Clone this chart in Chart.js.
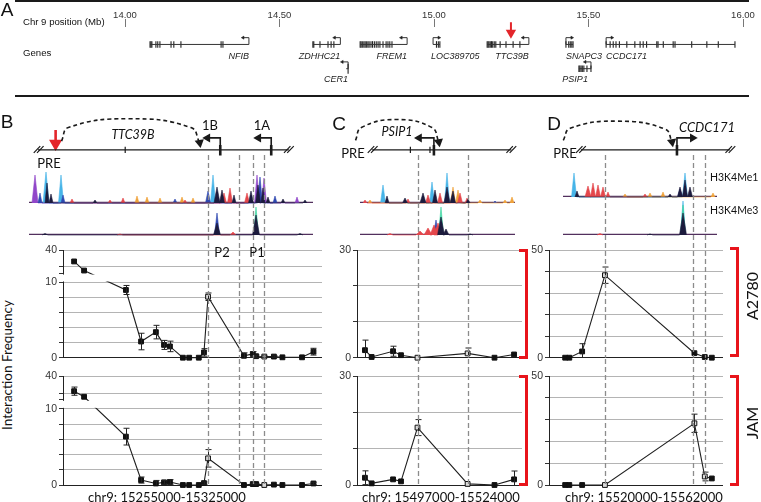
<!DOCTYPE html>
<html>
<head>
<meta charset="utf-8">
<title>TTC39B PRE chromatin interactions</title>
<script src="https://cdn.jsdelivr.net/npm/chart.js@4.4.1/dist/chart.umd.min.js"></script>
<style>
html,body{margin:0;padding:0;background:#fff;}
body{position:relative;width:761px;height:502px;overflow:hidden;}
canvas{position:absolute;}
.t{position:absolute;white-space:nowrap;line-height:1;color:#111;z-index:6;}
.rule{position:absolute;background:#1a1a1a;z-index:6;}
.brk{position:absolute;border:3px solid #e8141b;border-left:none;z-index:6;}
</style>
</head>
<body>
<script>
// ====================== DATA ======================
// ---- Panel A : genes on chr9 (Mb) ----
const axisMb = [14.00, 14.50, 15.00, 15.50, 16.00];
const geneNames  = ['NFIB','ZDHHC21','CER1','FREM1','LOC389705','TTC39B','SNAPC3','PSIP1','CCDC171'];
const geneStart  = [14.081, 14.608, 14.716, 14.761, 14.997, 15.172, 15.427, 15.469, 15.557];
const geneEnd    = [14.401, 14.697, 14.722, 14.913, 15.019, 15.307, 15.450, 15.508, 15.974];
const geneStrand = [-1, -1, -1, -1, 1, -1, 1, -1, 1];
const geneRow    = [18, 18, 43, 18, 18, 18, 18, 43, 18];
const geneExons  = [
  [14.081,14.084,14.087,14.100,14.106,14.113,14.149,14.158,14.181,14.311,14.317],
  [14.608,14.611,14.631,14.657,14.667,14.676],
  [14.722],
  [14.761,14.764,14.768,14.773,14.777,14.781,14.786,14.790,14.796,14.801,14.807,14.813,14.819,14.825,14.835,14.845,14.851,14.857,14.864],
  [15.008,15.014,15.019],
  [15.172,15.175,15.178,15.182,15.186,15.190,15.195,15.200,15.214,15.233,15.256,15.278],
  [15.427,15.436,15.441,15.446,15.450],
  [15.469,15.472,15.476,15.480,15.485,15.495,15.508],
  [15.557,15.570,15.580,15.589,15.600,15.624,15.650,15.667,15.677,15.688,15.721,15.725,15.742,15.774,15.780,15.834,15.883,15.920,15.974]
];
const geneLabelPos   = [14.401, 14.697, 14.722, 14.913, 14.990, 15.307, 15.427, 15.498, 15.557];
const geneLabelAlign = ['right','right','right','right','left','right','left','right','left'];
const preMarkMb = 15.249;

// ---- Panels B-D : schematic (diagram units) ----
const schemLineY     = 153;
const schemGeneLines = [[31, 287], [372, 514], [585, 737]];
const schemBreaks    = [31.7, 287, 372.5, 514, 585, 737.5];
const schemMinorTick = [120, 411, 431];
const schemTSS       = [217, 269, 435, 683];
const schemTSSDir    = [-1, -1, -1, 1];
const schemTSSLen    = [13, 13, 15, 16];
const schemArcs = [
  [[55,142],[62,125],[123,114],[187,125],[196,144]],
  [[355,141],[361,125],[397,115],[433,125],[440,143]],
  [[567,141],[574,126],[622,117],[671,127],[678,143]]
];
const preArrowX = 49;

// ---- ChIP-seq tracks: [position along track, height, colour, half width] ----
const bMe1 = [[6,28,'pu',3],[11,10,'bl',2],[17,31,'cy',3],[18,20,'dk',2],[22,9,'dk',2],[32,28,'cy',2.5],[34,8,'bl',2],
  [43,4,'rd',2],[66,3,'dk',2],[81,3,'rd',2],[94,5,'rd',2],[108,7,'or',2],[118,6,'or',2],[131,5,'or',2],[146,4,'bl',2],[153,6,'or',2],[156,3,'rd',2],[164,5,'or',2],
  [179,12,'bl',2.5],[184,28,'cy',2.5],[188,16,'dk',3],[193,13,'dk',2.5],[195,10,'rd',2.5],[201,15,'rd',2.5],[205,8,'dk',2],[218,10,'rd',2.5],[222,12,'dk',2.5],
  [228,28,'pu',2.5],[229,18,'dk',2.5],[231,26,'bl',2.5],[235,25,'pu',2.5],[234,15,'dk',2],[239,6,'dk',2],[246,7,'bl',2],[254,4,'dk',2],[268,6,'pu',2],[276,3,'dk',2]];
const bMe3 = [[16,1.5,'dk',3],[91,1,'rd',3],[188,22,'bl',2.5],[188,12,'dk',3.5],[204,3,'rd',3],[227,28,'gr',2.5],[227,20,'dk',3.5],[271,1.5,'dk',3]];
const cMe1 = [[5,3,'rd',2],[10,3,'or',2],[23,18,'cy',2.5],[27,7,'dk',2],[45,5,'dk',2.5],[48,4,'rd',2],[63,10,'dk',3],[68,8,'rd',2.5],
  [72,21,'cy',2.5],[75,13,'dk',2.5],[80,10,'rd',2.5],[87,30,'cy',2.5],[87,16,'dk',3],[93,16,'or',2.5],[93,12,'dk',2.5],[98,13,'or',2.5],[100,10,'rd',2.5],
  [107,5,'rd',2],[108,4,'dk',2],[120,3,'or',2],[135,2,'bl',2],[145,3,'or',2],[152,6,'or',2]];
const cMe3 = [[30,1.5,'rd',3],[60,4,'rd',4],[68,7,'rd',4],[74,10,'rd',4],[78,12,'rd',4],[76,15,'bl',2.5],[81,28,'gr',2.5],[81,18,'dk',3.5],[86,6,'dk',3],[110,1,'dk',3]];
const dMe1 = [[11,24,'cy',2.5],[14,6,'dk',2],[25,11,'rd',3],[30,14,'rd',2.5],[35,12,'rd',2.5],[40,10,'rd',2.5],[45,5,'rd',2],
  [62,3,'or',2],[82,3,'rd',2],[87,4,'or',2],[100,5,'or',2],[107,3,'dk',2],[117,10,'dk',2.5],[117,8,'bl',2.5],[122,24,'cy',2.5],[122,17,'dk',2.5],[127,10,'dk',2.5],[150,4,'or',2]];
const dMe3 = [[37,1.5,'rd',3],[87,1,'dk',3],[120,34,'cy',2.5],[120,30,'gr',2.5],[120,22,'dk',3.5]];

// ---- 3C interaction frequencies ----
const bPos      = [15258000,15260700,15272000,15276100,15280100,15282300,15283900,15287400,15289100,15291700,15293100,15294200,15303900,15306300,15307200,15309400,15312000,15314300,15319600,15322700];
const bA2780    = [33.2, 27.8, 9.0, 2.15, 3.4, 1.7, 1.5, 0, 0, 0, 0.7, 8.1, 0.25, 0.5, 0.2, 0.15, 0.15, 0.05, 0.05, 0.8];
const bA2780Err = [0, 0, 0.6, 1.1, 0.9, 0.6, 0.7, 0, 0, 0, 0.5, 0.5, 0.4, 0.3, 0.15, 0.1, 0.1, 0, 0, 0.45];
const bJAM      = [31.1, 27.8, 6.35, 0.65, 0.2, 0.35, 0.4, 0, 0, 0, 0.25, 3.5, 0, 0.12, 0.12, 0, 0.05, 0, 0, 0.2];
const bJAMErr   = [2.4, 0, 1.1, 0.4, 0.4, 0.25, 0.3, 0, 0, 0, 0.15, 1.15, 0, 0.1, 0.1, 0, 0, 0, 0, 0.15];
const bOpen     = [11, 15];
const bDashed   = [15294100, 15302500, 15306300, 15309400];
const bTicks    = [0, 2, 4, 6, 8, 10, 26, 30, 40];
const bTickText = ['0','','','','','10','','','40'];

const cPos      = [15498300,15499400,15502900,15504200,15506900,15515100,15519500,15522700];
const cA2780    = [2.1, 0.2, 1.8, 0.7, 0, 1.2, 0, 0.9];
const cA2780Err = [2.8, 0, 1.4, 0, 0, 1.5, 0, 0];
const cJAM      = [2.0, 0.45, 1.55, 1.0, 15.8, 0.3, 0, 1.55];
const cJAMErr   = [1.9, 0, 0, 0, 2.2, 0, 0, 2.3];
const cOpen     = [4, 5];
const cDashed   = [15507000, 15515200];
const cTicks    = [0, 10, 20, 30];
const cTickText = ['0','','','30'];

const dPos      = [15523900,15524900,15528000,15533500,15555100,15557600,15559300];
const dA2780    = [0, 0, 2.9, 38.3, 2.1, 0.3, 0];
const dA2780Err = [0, 0, 3.6, 3.8, 0, 0, 0];
const dJAM      = [0, 0, 0, 0, 28.3, 3.9, 3.0];
const dJAMErr   = [0, 0, 0, 0, 4.2, 2.0, 0];
const dOpenA    = [3];
const dOpenJ    = [3, 4, 5];
const dDashed   = [15533400, 15554800, 15557600];
const dTicks    = [0, 10, 20, 30, 40, 50];
const dTickText = ['0','','','','','50'];

// ====================== DRAWING ======================
const ARIAL = '"Liberation Sans", Arial, sans-serif';
const CAL = 'Lato, "Open Sans", sans-serif';
const K = '#1a1a1a';
const RED = '#e3262b';
Chart.defaults.font.family = '"Liberation Sans", Arial, sans-serif';

function mk(left, top, w, h, z){
  const c = document.createElement('canvas');
  c.width = w; c.height = h;
  c.style.cssText = `left:${left}px;top:${top}px;width:${w}px;height:${h}px;z-index:${z}`;
  document.body.appendChild(c);
  return c;
}
const baseOpts = () => ({responsive:false, maintainAspectRatio:false, animation:false, events:[], devicePixelRatio:1,
  plugins:{legend:{display:false}, tooltip:{enabled:false}}});
function seg(pts, w, c){
  return {data: pts.map(([x,y]) => ({x, y})), showLine:true, borderColor:c||K, borderWidth:w, pointRadius:0, clip:false};
}
function txt(s, x, y, font, align, rot, color){
  const d = document.createElement('div');
  d.className = 't'; d.textContent = s; d.style.font = font; d.style.lineHeight = '1';
  d.style.left = x + 'px'; d.style.top = y + 'px';
  if (color) d.style.color = color;
  let tr = align === 'left' ? 'translate(0,-50%)' : 'translate(-50%,-50%)';
  if (rot) tr += ` rotate(${rot}deg)`;
  d.style.transform = tr;
  document.body.appendChild(d);
}
function box(cls, l, t, w, h){
  const d = document.createElement('div'); d.className = cls;
  d.style.left = l + 'px'; d.style.top = t + 'px'; d.style.width = w + 'px'; d.style.height = h + 'px';
  document.body.appendChild(d);
}

// ---------- Panel A ----------
(function(){
  const ds = [];
  geneNames.forEach((g, i) => {
    const row = geneRow[i], s = geneStrand[i];
    ds.push(seg([[geneStart[i], row], [geneEnd[i], row]], 1, '#333'));
    ds.push({data: geneExons[i].map(x => ({x, y: row})), showLine:false, pointStyle:'line', pointRotation:90,
      pointRadius: i === 2 ? 5 : 3.3, borderColor:'#222', pointBorderColor:'#222', pointBorderWidth:1.1, clip:false});
    const tss = s > 0 ? geneStart[i] : geneEnd[i];
    ds.push(Object.assign(seg([[tss, row], [tss, row - 7], [tss + s * 0.019, row - 7]], 1, '#333'),
      {pointRadius:[0,0,1.8], pointStyle:'triangle', pointRotation: s > 0 ? 90 : 270, pointBackgroundColor:'#222', pointBorderColor:'#222', pointBorderWidth:0.5}));
  });
  ds.push(Object.assign(seg([[preMarkMb, -5], [preMarkMb, 6]], 2, RED),
    {pointRadius:[0,4], pointStyle:'triangle', pointRotation:180, pointBackgroundColor:RED, pointBorderColor:RED}));
  const labelPlugin = {id:'geneLabels', afterDatasetsDraw(chart){
    const {ctx, scales:{x, y}} = chart;
    ctx.save(); ctx.font = 'italic 9px "Liberation Sans"'; ctx.fillStyle = '#222'; ctx.textBaseline = 'middle';
    geneNames.forEach((g, i) => {
      ctx.textAlign = geneLabelAlign[i];
      ctx.fillText(g, x.getPixelForValue(geneLabelPos[i]), y.getPixelForValue(geneRow[i] + (geneRow[i] > 30 ? 11.5 : 12)));
    });
    ctx.restore();
  }};
  const o = baseOpts();
  o.layout = {padding:{left:125, right:18, top:0, bottom:4}};
  o.scales = {
    x:{type:'linear', position:'top', min:14, max:16,
       afterBuildTicks: s => { s.ticks = axisMb.map(v => ({value:v})); },
       afterFit: s => { s.height = 27; },
       ticks:{callback: v => v.toFixed(2), font:{size:9.5}, color:'#333', padding:-2, maxRotation:0, autoSkip:false},
       grid:{drawOnChartArea:false, tickLength:8, color:'#777', lineWidth:1}, border:{display:false}},
    y:{display:false, min:0, max:69, reverse:true}
  };
  new Chart(mk(0, 0, 761, 100, 2), {type:'scatter', data:{datasets:ds}, options:o, plugins:[labelPlugin]});
})();

// ---------- Schematics B-D ----------
(function(){
  const ds = [];
  schemGeneLines.forEach(([a, b]) => ds.push(seg([[a, schemLineY], [b, schemLineY]], 1.4)));
  schemBreaks.forEach(bx => {
    ds.push(seg([[bx - 5, 156.7], [bx + 1.6, 148.3]], 1.2));
    ds.push(seg([[bx - 1.7, 156.7], [bx + 5, 148.3]], 1.2));
  });
  schemMinorTick.forEach(x => ds.push(seg([[x, 149], [x, 157]], 1.2)));
  schemTSS.forEach((x, i) => {
    ds.push(seg([[x, 147], [x, 160]], 2.6));
    const d = schemTSSDir[i];
    ds.push(Object.assign(seg([[x, 147], [x, 138], [x + d * schemTSSLen[i], 138]], 1.6),
      {pointRadius:[0,0,3.6], pointStyle:'triangle', pointRotation: d > 0 ? 90 : 270, pointBackgroundColor:K, pointBorderColor:K}));
  });
  schemArcs.forEach(pts => ds.push(Object.assign(seg(pts, 1.6),
    {borderDash:[4,3], tension:0.45, pointRadius: pts.map((p, j) => j === pts.length - 1 ? 3.8 : 0),
     pointStyle:'triangle', pointRotation:170, pointBackgroundColor:K, pointBorderColor:K})));
  ds.push(Object.assign(seg([[preArrowX, 128], [preArrowX, 145]], 2.6, RED),
    {pointRadius:[0,5], pointStyle:'triangle', pointRotation:180, pointBackgroundColor:RED, pointBorderColor:RED}));
  const o = baseOpts();
  o.layout = {padding:0};
  o.scales = {x:{display:false, type:'linear', min:0, max:761}, y:{display:false, min:100, max:175, reverse:true}};
  new Chart(mk(0, 100, 761, 75, 2), {type:'scatter', data:{datasets:ds}, options:o});
})();

// ---------- ChIP-seq tracks ----------
const peakColors = {dk:'#1c1b3d', rd:'#e4474c', or:'#f0a23a', bl:'#2f48b0', pu:'#9146c9', gr:'#3fd6a2', cy:'#46b4e8'};
const peakOrder = ['dk','rd','or','bl','pu','gr','cy'];
function peakChart(left, baseline, width, peaks){
  const H = 40;
  const ds = [];
  peakOrder.forEach(k => {
    const pts = peaks.filter(p => p[2] === k).sort((a, b) => a[0] - b[0])
      .flatMap(p => [{x:p[0] - p[3], y:0}, {x:p[0], y:p[1]}, {x:p[0] + p[3], y:0}]);
    if (pts.length) ds.push({data:pts, showLine:true, fill:'origin', backgroundColor:peakColors[k], borderColor:peakColors[k],
      borderWidth:0.6, pointRadius:0, tension:0, clip:false});
  });
  ds.push({data:[{x:0, y:0.6}, {x:width, y:0.6}], showLine:true, borderColor:'#52305e', borderWidth:1.3, pointRadius:0});
  const o = baseOpts();
  o.layout = {padding:{left:0, right:0, top:0, bottom:2}};
  o.scales = {x:{display:false, type:'linear', min:0, max:width}, y:{display:false, min:0, max:H}};
  new Chart(mk(left, baseline - H, width, H + 2, 2), {type:'scatter', data:{datasets:ds}, options:o});
}
peakChart(29, 203, 284, bMe1);
peakChart(29, 235, 284, bMe3);
peakChart(360, 203, 155, cMe1);
peakChart(360, 235, 155, cMe3);
peakChart(563, 197, 154, dMe1);
peakChart(563, 235, 154, dMe3);

// ---------- interaction-frequency line charts ----------
const dispB = v => v <= 10 ? v : (v < 26 ? 10 + (v - 10) / 16 * 1.18 : 11.18 + (v - 26) * 0.2237);
function lineChart(c){
  const disp = c.disp || (v => v);
  const cl = c.left - 30, cw = c.right + 6 - cl, ch = c.cBottom - c.cTop;
  const overlay = {id:'overlay', afterDraw(chart){
    const {ctx, chartArea:a, scales:{x, y}} = chart;
    ctx.save();
    ctx.strokeStyle = '#222'; ctx.lineWidth = 1;
    c.vals.forEach((v, i) => {
      const e = c.err[i]; if (!e) return;
      const px = Math.round(x.getPixelForValue(c.pos[i])) + 0.5;
      const lowV = v - e;
      const lo = y.getPixelForValue(disp(Math.max(0, lowV)));
      const hi = y.getPixelForValue(disp(v + e));
      ctx.beginPath(); ctx.moveTo(px, lo); ctx.lineTo(px, hi);
      ctx.moveTo(px - 3, hi); ctx.lineTo(px + 3, hi);
      if (lowV > 0) { ctx.moveTo(px - 3, lo); ctx.lineTo(px + 3, lo); }
      ctx.stroke();
    });
    if (c.gap) {
      const yT = y.getPixelForValue(disp(c.gap[1])), yB = y.getPixelForValue(disp(c.gap[0]));
      ctx.fillStyle = '#fff'; ctx.fillRect(a.left - 1.5, yT + 1, a.right - a.left + 3, yB - yT - 2);
    }
    ctx.strokeStyle = '#8c8c8c'; ctx.lineWidth = 1.3; ctx.setLineDash([5, 3]);
    c.dash.forEach(d => {
      const px = Math.round(x.getPixelForValue(d)) + 0.5;
      ctx.beginPath(); ctx.moveTo(px, c.dashTop - c.cTop); ctx.lineTo(px, a.bottom); ctx.stroke();
    });
    ctx.restore();
  }};
  const o = baseOpts();
  o.layout = {padding:{left:0, right:6, top:c.top - c.cTop, bottom:c.cBottom - c.bottom}};
  o.scales = {
    x:{type:'linear', display:false, min:c.xmin, max:c.xmax},
    y:{min:0, max:disp(c.ticks[c.ticks.length - 1]),
       afterBuildTicks: s => { s.ticks = c.ticks.map(v => ({value:disp(v)})); },
       afterFit: s => { s.width = 30; },
       ticks:{autoSkip:false, padding:2, color:'#333', font:{size:10.5}, callback:(v, i) => c.labels[i]},
       grid:{color: ctx => {
               const i = ctx.index, tv = c.ticks[i];
               if (tv === 0) return '#222';
               if (c.noGrid && c.noGrid.includes(tv)) return 'rgba(0,0,0,0)';
               return '#b4b4b4';
             }, tickColor:'#333', tickLength:4, lineWidth:1},
       border:{color:'#222', width:1}}
  };
  new Chart(mk(cl, c.cTop, cw, ch, 3), {type:'scatter', data:{datasets:[{
    data: c.pos.map((x, i) => ({x, y: disp(c.vals[i])})), showLine:true, borderColor:'#1f1f1f', borderWidth:1.1,
    pointStyle:'rect', pointRadius:3.4, pointBorderWidth:1, pointBorderColor:'#111',
    pointBackgroundColor: c.vals.map((v, i) => c.open.includes(i) ? '#dadada' : '#111'), clip:false
  }]}, options:o, plugins:[overlay]});
}
const TOP = {cTop:150, cBottom:366, top:250, bottom:359, dashTop:155};
const BOT = {cTop:359, cBottom:502, top:376, bottom:485, dashTop:359};
const B = {left:63, right:322, xmin:15255000, xmax:15325000, disp:dispB, ticks:bTicks, labels:bTickText, noGrid:[26], gap:[10, 26], dash:bDashed, pos:bPos};
const C = {left:357, right:522, xmin:15497000, xmax:15524000, ticks:cTicks, labels:cTickText, dash:cDashed, pos:cPos};
const D = {left:549, right:723, xmin:15520000, xmax:15562000, ticks:dTicks, labels:dTickText, dash:dDashed, pos:dPos};
lineChart(Object.assign({}, B, TOP, {vals:bA2780, err:bA2780Err, open:bOpen}));
lineChart(Object.assign({}, B, BOT, {vals:bJAM, err:bJAMErr, open:bOpen}));
lineChart(Object.assign({}, C, TOP, {vals:cA2780, err:cA2780Err, open:cOpen}));
lineChart(Object.assign({}, C, BOT, {vals:cJAM, err:cJAMErr, open:cOpen}));
lineChart(Object.assign({}, D, TOP, {vals:dA2780, err:dA2780Err, open:dOpenA}));
lineChart(Object.assign({}, D, BOT, {vals:dJAM, err:dJAMErr, open:dOpenJ}));

// ---------- text, rules, brackets ----------
box('rule', 15, 0, 734, 1.6);
box('rule', 15, 95, 734, 1.6);
txt('A', 7, 9, `19px ${ARIAL}`);
txt('Chr 9 position (Mb)', 23, 22, `9.6px ${ARIAL}`, 'left');
txt('Genes', 23, 53, `9.6px ${ARIAL}`, 'left');
txt('B', 7, 121, `19px ${ARIAL}`);
txt('C', 339, 123, `19px ${ARIAL}`);
txt('D', 554, 123, `19px ${ARIAL}`);
txt('PRE', 49, 163, `13px ${CAL}`);
txt('TTC39B', 133, 135, `italic 12.5px ${CAL}`);
txt('1B', 210, 125, `13px ${CAL}`);
txt('1A', 262, 125, `13px ${CAL}`);
txt('P2', 222, 252, `13px ${CAL}`);
txt('P1', 257, 252, `13px ${CAL}`);
txt('PRE', 353, 153, `13px ${CAL}`);
txt('PSIP1', 397, 132, `italic 12.5px ${CAL}`);
txt('PRE', 565, 153, `13px ${CAL}`);
txt('CCDC171', 707, 127, `italic 13px ${CAL}`);
txt('H3K4Me1', 710, 177, `10.5px ${CAL}`, 'left');
txt('H3K4Me3', 710, 210, `10.5px ${CAL}`, 'left');
txt('Interaction Frequency', 8, 365, `13.5px ${CAL}`, null, -90);
txt('A2780', 752, 296, `16px ${CAL}`, null, -90);
txt('JAM', 752, 423, `16px ${CAL}`, null, -90);
txt('chr9: 15255000-15325000', 167, 497, `13px ${CAL}`);
txt('chr9: 15497000-15524000', 441, 497, `13px ${CAL}`);
txt('chr9: 15520000-15562000', 644, 497, `13px ${CAL}`);
box('brk', 519, 249, 6, 104);
box('brk', 519, 375, 6, 105);
box('brk', 730, 247, 6, 104);
box('brk', 730, 375, 6, 105);
</script>
</body>
</html>
